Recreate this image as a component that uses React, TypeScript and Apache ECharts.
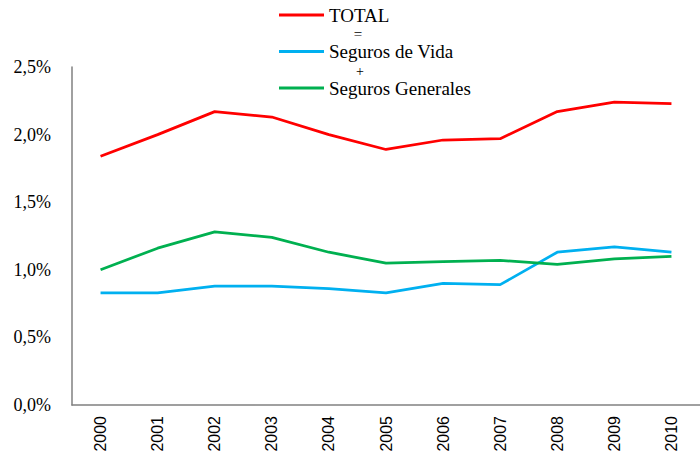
import React, { useEffect, useRef } from "react";
import * as echarts from "echarts";

const years = ["2000", "2001", "2002", "2003", "2004", "2005", "2006", "2007", "2008", "2009", "2010"];
const total = [1.84, 2.0, 2.17, 2.13, 2.0, 1.89, 1.96, 1.97, 2.17, 2.24, 2.23];
const segurosVida = [0.83, 0.83, 0.88, 0.88, 0.86, 0.83, 0.9, 0.89, 1.13, 1.17, 1.13];
const segurosGenerales = [1.0, 1.16, 1.28, 1.24, 1.13, 1.05, 1.06, 1.07, 1.04, 1.08, 1.1];
const seriesNames = ["TOTAL", "Seguros de Vida", "Seguros Generales"];
const seriesColors = ["#FF0000", "#00B0F0", "#00B050"];
const legendOperators = ["=", "+"];

const SERIF = "'Liberation Serif', 'Times New Roman', serif";
const SANS = "'Liberation Sans', Arial, sans-serif";

export default function App() {
  const ref = useRef<HTMLDivElement>(null);
  useEffect(() => {
    if (!ref.current) return;
    const chart = echarts.init(ref.current, undefined, { renderer: "svg" });
    const data = [total, segurosVida, segurosGenerales];
    chart.setOption({
      animation: false,
      backgroundColor: "#ffffff",
      legend: {
        orient: "vertical",
        left: 279,
        top: 5,
        padding: 0,
        itemWidth: 45,
        itemHeight: 3,
        itemGap: 16.5,
        icon: "rect",
        data: seriesNames,
        textStyle: { fontFamily: SERIF, fontSize: 19, color: "#000", lineHeight: 20 },
      },
      graphic: [
        {
          type: "text",
          x: 358,
          y: 34,
          style: { text: legendOperators[0], font: `15px ${SERIF}`, fill: "#000", align: "center", verticalAlign: "middle", lineHeight: 14 },
        },
        {
          type: "text",
          x: 360,
          y: 71.5,
          style: { text: legendOperators[1], font: `14px ${SERIF}`, fill: "#000", align: "center", verticalAlign: "middle", lineHeight: 14 },
        },
      ],
      grid: { left: 72, top: 67, width: 638, height: 338 },
      xAxis: {
        type: "category",
        data: years,
        boundaryGap: true,
        axisLine: { show: true, lineStyle: { color: "#808080", width: 1.5 } },
        axisTick: { show: false },
        axisLabel: { rotate: 90, margin: 11, fontFamily: SANS, fontSize: 16, color: "#000" },
        splitLine: { show: false },
      },
      yAxis: {
        type: "value",
        min: 0,
        max: 2.5,
        interval: 0.5,
        axisLine: { show: true, lineStyle: { color: "#808080", width: 1.5 } },
        axisTick: { show: false },
        splitLine: { show: false },
        axisLabel: {
          margin: 21,
          fontFamily: SERIF,
          fontSize: 18,
          color: "#000",
          formatter: (v: number) => v.toFixed(1).replace(".", ",") + "%",
        },
      },
      series: seriesNames.map((name, i) => ({
        name,
        type: "line",
        data: data[i],
        showSymbol: false,
        symbol: "none",
        color: seriesColors[i],
        lineStyle: { width: 2.75, color: seriesColors[i] },
      })),
    });
    return () => chart.dispose();
  }, []);
  return <div ref={ref} style={{ position: "absolute", left: 0, top: 0, width: 700, height: 468 }} />;
}
